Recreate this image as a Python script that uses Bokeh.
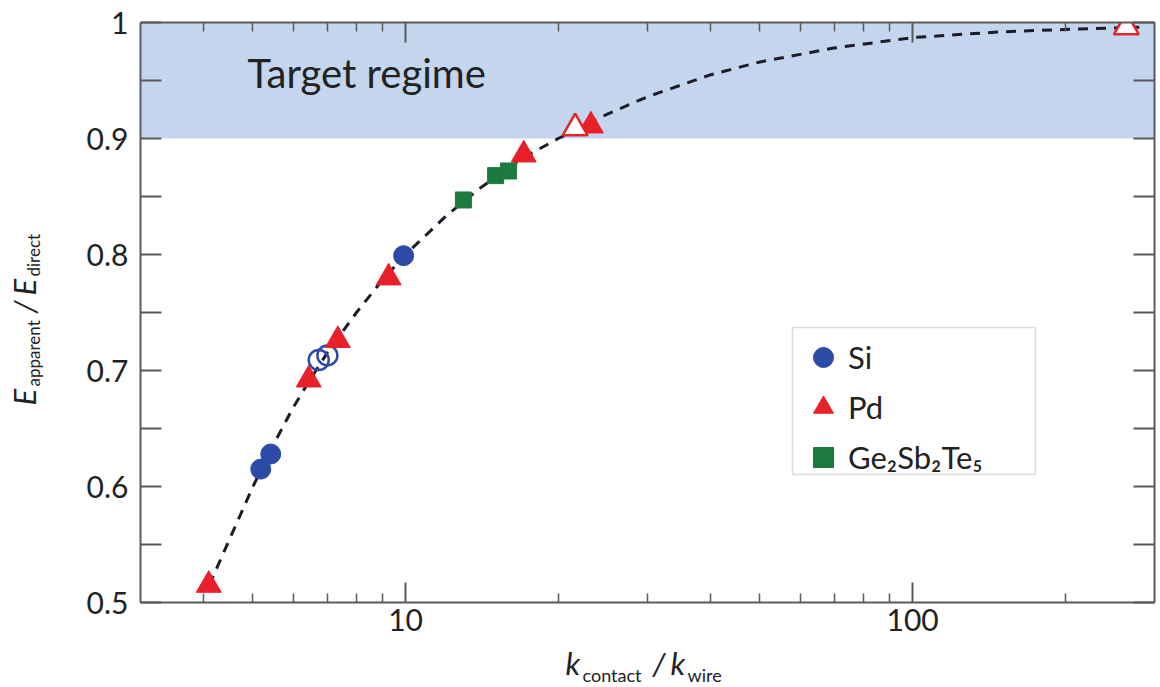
import math

from bokeh.embed import file_html
from bokeh.layouts import column, row
from bokeh.models import (BoxAnnotation, FixedTicker, Label, LinearAxis, Legend,
                          LegendItem, LogAxis, Range1d)
from bokeh.plotting import figure
from bokeh.resources import INLINE

# ---- data -------------------------------------------------------------
# Si (filled / open circles)
si_k = [5.18, 5.42, 9.91]
si_e = [0.615, 0.628, 0.799]
si_open_k = [6.74, 7.01]
si_open_e = [0.709, 0.713]

# Pd (filled / open triangles)
pd_k = [4.09, 6.44, 7.35, 9.26, 17.1, 23.2]
pd_e = [0.515, 0.692, 0.726, 0.780, 0.886, 0.911]
pd_open_k = [21.6, 264.0]
pd_open_e = [0.909, 0.996]

# Ge2Sb2Te5 (squares)
gst_k = [13.0, 15.05, 15.96]
gst_e = [0.847, 0.868, 0.872]

# model curve (dashed)
fit_k = [4.1, 4.5, 5.0, 5.5, 6.0, 6.5, 7.0, 8.0, 9.0, 10.0, 12.0, 14.0, 17.0,
         20.0, 25.0, 30.0, 40.0, 50.0, 70.0, 100.0, 150.0, 200.0, 280.0]
fit_e = [0.515, 0.555, 0.600, 0.637, 0.668, 0.693, 0.715, 0.750, 0.778, 0.800,
         0.833, 0.857, 0.883, 0.900, 0.921, 0.936, 0.955, 0.966, 0.978, 0.987,
         0.992, 0.994, 0.996]

# shaded target band
target_low = 0.9
target_high = 1.0

# axes
x_major = [10, 100]
x_minor = [4, 5, 6, 7, 8, 9, 20, 30, 40, 50, 60, 70, 80, 90, 200]
x_labels = {10: "10", 100: "100"}
y_ticks = [0.5, 0.55, 0.6, 0.65, 0.7, 0.75, 0.8, 0.85, 0.9, 0.95, 1.0]
y_labels = {0.5: "0.5", 0.55: "", 0.6: "0.6", 0.65: "", 0.7: "0.7", 0.75: "",
            0.8: "0.8", 0.85: "", 0.9: "0.9", 0.95: "", 1.0: "1"}

# ---- style ------------------------------------------------------------
FONT = "Lato"
BLUE = "#2c4ba6"
RED = "#e8202a"
GREEN = "#1b7a3e"
BAND = "#c4d6ed"
AXIS = "#5a5a5a"
TEXT = "#222222"

W, H = 1160, 687
YT_W = 60          # strip holding the vertical axis title
XT_H = 43          # strip holding the horizontal axis title
MAIN_W = W - YT_W
MAIN_H = H - XT_H
LIFT = 0.42        # anchor-to-baseline offset of Label text, in em

p = figure(width=MAIN_W, height=MAIN_H, x_axis_type="log",
           x_range=Range1d(3, 300), y_range=Range1d(0.5, 1.0),
           min_border_left=80, min_border_right=6,
           min_border_top=22, min_border_bottom=42,
           output_backend="svg", toolbar_location=None,
           background_fill_color="white", border_fill_color="white",
           outline_line_color=None)
p.xgrid.visible = False
p.ygrid.visible = False


def style_axis(ax, show_labels):
    ax.axis_line_color = AXIS
    ax.axis_line_width = 2
    ax.major_tick_line_color = AXIS
    ax.minor_tick_line_color = AXIS
    ax.major_tick_line_width = 2
    ax.minor_tick_line_width = 1.5
    ax.major_tick_out = 0
    ax.minor_tick_out = 0
    ax.major_label_text_font = FONT
    ax.major_label_text_color = TEXT
    if show_labels:
        ax.major_label_text_font_size = "30px"
    else:
        ax.major_label_text_font_size = "1px"
        ax.major_label_text_alpha = 0
        ax.major_label_standoff = 0


# bottom / top log axes
xb = p.xaxis[0]
xb.ticker = FixedTicker(ticks=x_major, minor_ticks=x_minor)
xb.major_label_overrides = x_labels
style_axis(xb, True)
xb.major_tick_in = 20
xb.minor_tick_in = 9
xb.major_label_standoff = 6

xt = LogAxis(ticker=FixedTicker(ticks=x_major, minor_ticks=x_minor))
xt.major_label_overrides = {10: "", 100: ""}
style_axis(xt, False)
xt.major_tick_in = 20
xt.minor_tick_in = 9
p.add_layout(xt, "above")

# left / right linear axes
yl = p.yaxis[0]
yl.ticker = FixedTicker(ticks=y_ticks, minor_ticks=[])
yl.major_label_overrides = y_labels
style_axis(yl, True)
yl.major_tick_in = 21
yl.minor_tick_in = 0
yl.major_label_standoff = 12

yr = LinearAxis(ticker=FixedTicker(ticks=y_ticks, minor_ticks=[]))
yr.major_label_overrides = {t: "" for t in y_ticks}
style_axis(yr, False)
yr.major_tick_in = 21
yr.minor_tick_in = 0
p.add_layout(yr, "right")

# target band
p.add_layout(BoxAnnotation(bottom=target_low, top=target_high,
                           fill_color=BAND, fill_alpha=1.0,
                           line_color=None, level="underlay"))
p.add_layout(Label(x=107, y=513 + LIFT * 40, x_units="screen", y_units="screen",
                   text="Target regime", text_font=FONT,
                   text_font_size="40px", text_color=TEXT,
                   text_baseline="alphabetic"))

# dashed model curve
p.line(fit_k, fit_e, line_color="#1c1c28", line_width=3, line_dash="10 8")

# markers
r_si = p.scatter(si_k, si_e, marker="circle", size=20,
                 fill_color=BLUE, line_color=BLUE)
p.scatter(si_open_k, si_open_e, marker="circle", size=20,
          fill_alpha=0, line_color=BLUE, line_width=2.5)
r_gst = p.scatter(gst_k, gst_e, marker="square", size=16,
                  fill_color=GREEN, line_color=GREEN)
r_pd = p.scatter(pd_k, pd_e, marker="triangle", size=25,
                 fill_color=RED, line_color=RED)
p.scatter(pd_open_k, pd_open_e, marker="triangle", size=25,
          fill_color="white", line_color=RED, line_width=2.5)

# legend frame + entries
p.add_layout(BoxAnnotation(left=652, right=895, bottom=128, top=275,
                           left_units="screen", right_units="screen",
                           bottom_units="screen", top_units="screen",
                           fill_color="white", fill_alpha=1.0,
                           line_color="#8c8c8c", line_width=1.5))
legend = Legend(items=[LegendItem(label="Si", renderers=[r_si]),
                       LegendItem(label="Pd", renderers=[r_pd]),
                       LegendItem(label="Ge₂Sb₂Te₅", renderers=[r_gst])],
                location=(658, 120), orientation="vertical",
                background_fill_alpha=0, border_line_color=None,
                label_text_font=FONT, label_text_font_size="31px",
                label_text_color=TEXT,
                glyph_width=50, glyph_height=50, label_height=50,
                spacing=0, padding=2, margin=0, label_standoff=0)
p.add_layout(legend)


# ---- axis titles (italic symbol + subscript pieces) --------------------
def strip(width, height):
    f = figure(width=width, height=height,
               x_range=Range1d(0, 1), y_range=Range1d(0, 1),
               x_axis_location=None, y_axis_location=None,
               min_border=0, output_backend="svg", toolbar_location=None,
               background_fill_color="white", border_fill_color="white",
               outline_line_color=None)
    f.grid.visible = False
    return f


def piece(f, x, y, text, size, italic=False, vertical=False):
    lift = LIFT * size
    f.add_layout(Label(x=x - lift if vertical else x,
                       y=y if vertical else y + lift,
                       x_units="screen", y_units="screen",
                       text=text, text_font=FONT, text_font_size=f"{size}px",
                       text_font_style="italic" if italic else "normal",
                       text_color=TEXT, text_baseline="alphabetic",
                       text_align="left",
                       angle=math.pi / 2 if vertical else 0.0))


# vertical title: its frame lines up with the main plot frame (22..602)
ytitle = strip(YT_W, MAIN_H)
piece(ytitle, 37, 197, "E", 31, italic=True, vertical=True)
piece(ytitle, 40, 216, "apparent", 17, vertical=True)
piece(ytitle, 37, 289, "/", 31, italic=True, vertical=True)
piece(ytitle, 37, 307, "E", 31, italic=True, vertical=True)
piece(ytitle, 40, 326, "direct", 17, vertical=True)

# horizontal title strip (bottom of page)
xtitle = strip(W, XT_H)
piece(xtitle, 565, 11, "k", 31, italic=True)
piece(xtitle, 582, 5, "contact", 18)
piece(xtitle, 652, 11, "/", 31, italic=True)
piece(xtitle, 670, 11, "k", 31, italic=True)
piece(xtitle, 687, 5, "wire", 18)

layout = column(row(ytitle, p, spacing=0), xtitle, spacing=0)
open("out.html", "w").write(file_html(layout, INLINE))
